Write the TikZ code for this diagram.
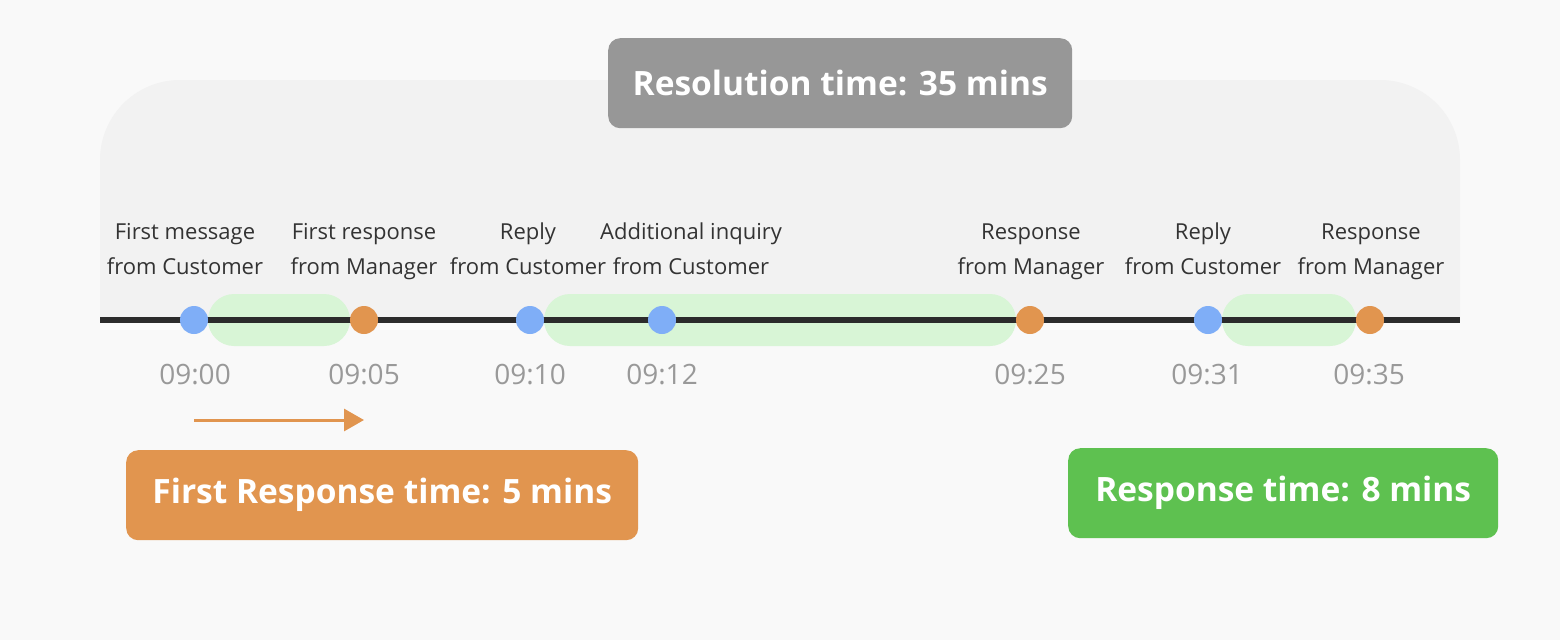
\documentclass[tikz,border=0pt]{standalone}
\usepackage{fontspec}
\setmainfont{Open Sans}
\usetikzlibrary{arrows.meta}
\definecolor{bgc}{HTML}{F9F9F9}
\definecolor{panelc}{HTML}{F2F2F2}
\definecolor{linec}{HTML}{2B2B2B}
\definecolor{bluec}{HTML}{7FAEF7}
\definecolor{orangec}{HTML}{E1954F}
\definecolor{pillc}{HTML}{D8F5D6}
\definecolor{labelc}{HTML}{333333}
\definecolor{timec}{HTML}{999999}
\definecolor{greyboxc}{HTML}{979797}
\definecolor{greenboxc}{HTML}{5EC150}
\tikzset{
  dot/.style={circle,inner sep=0pt,minimum size=28pt},
  custdot/.style={dot,fill=bluec},
  mgrdot/.style={dot,fill=orangec},
  pill/.style={fill=pillc,rounded corners=26pt},
  evlabel/.style={text=labelc,font=\fontsize{22}{35}\selectfont,align=center,anchor=base},
  timelabel/.style={text=timec,font=\fontsize{28}{30}\selectfont,anchor=base},
  metricbox/.style={text=white,font=\bfseries\fontsize{33.5}{40}\selectfont,rounded corners=12pt,inner sep=0pt,anchor=north west},
}
\begin{document}
\begin{tikzpicture}[x=1pt,y=-1pt]
\fill[bgc] (0,0) rectangle (1560,640);
\useasboundingbox (0,0) rectangle (1560,640);
% panel
\fill[panelc] (100,320) -- (100,160) arc[start angle=180,end angle=270,radius=80]
  -- (1380,80) arc[start angle=270,end angle=360,radius=80] -- (1460,320) -- cycle;
% pills
\fill[pill] (208,294) rectangle (350,346);
\fill[pill] (544,294) rectangle (1016,346);
\fill[pill] (1222,294) rectangle (1356,346);
% timeline
\coordinate (ls) at (100,320);
\coordinate (le) at (1460,320);
\draw[linec,line width=6pt] (ls) -- (le);
% dots
\node[custdot] (d1) at (194,320) {};
\node[mgrdot]  (d2) at (364,320) {};
\node[custdot] (d3) at (530,320) {};
\node[custdot] (d4) at (662,320) {};
\node[mgrdot]  (d5) at (1030,320) {};
\node[custdot] (d6) at (1208,320) {};
\node[mgrdot]  (d7) at (1370,320) {};
% event labels
\node[evlabel] (l1) at (185,274) {First message\\from Customer};
\node[evlabel] (l2) at (364,274) {First response\\from Manager};
\node[evlabel] (l3) at (528,274) {Reply\\from Customer};
\node[evlabel] (l4) at (691,274) {Additional inquiry\\from Customer};
\node[evlabel] (l5) at (1031,274) {Response\\from Manager};
\node[evlabel] (l6) at (1203,274) {Reply\\from Customer};
\node[evlabel] (l7) at (1371,274) {Response\\from Manager};
% time labels
\node[timelabel] (t1) at (195,384) {09:00};
\node[timelabel] (t2) at (364,384) {09:05};
\node[timelabel] (t3) at (530,384) {09:10};
\node[timelabel] (t4) at (662,384) {09:12};
\node[timelabel] (t5) at (1030,384) {09:25};
\node[timelabel] (t6) at (1207,384) {09:31};
\node[timelabel] (t7) at (1369,384) {09:35};
% arrow
\coordinate (a1) at (194,420);
\coordinate (a2) at (364,420);
\draw[orangec,line width=3pt,-{Triangle[length=20pt,width=22pt]}] (a1) -- (a2);
% metric boxes
\node[metricbox,fill=greyboxc,minimum width=464pt,minimum height=90pt] (res) at (608,38) {Resolution time: 35 mins};
\node[metricbox,fill=orangec,minimum width=512pt,minimum height=90pt] (frt) at (126,450) {First Response time: 5 mins};
\node[metricbox,fill=greenboxc,minimum width=430pt,minimum height=90pt] (rt) at (1068,448) {Response time: 8 mins};
\end{tikzpicture}
\end{document}
